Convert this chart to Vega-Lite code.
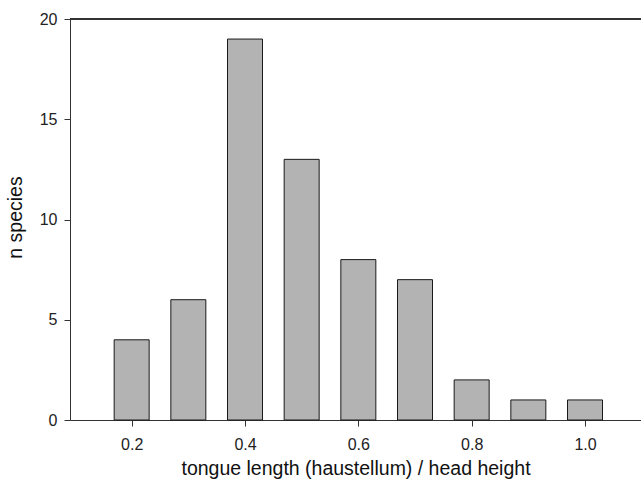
{
  "$schema": "https://vega.github.io/schema/vega-lite/v6.json",
  "width": 571,
  "height": 401,
  "autosize": "none",
  "padding": {"left": 70, "top": 19, "right": 0, "bottom": 59},
  "background": "white",
  "config": {
    "view": {"stroke": null},
    "font": "Liberation Sans",
    "axis": {
      "domainColor": "#333333",
      "tickColor": "#333333",
      "labelColor": "#222222",
      "titleColor": "#111111",
      "labelFont": "Liberation Sans",
      "titleFont": "Liberation Sans",
      "labelFontSize": 16,
      "titleFontSize": 19.5,
      "titleFontWeight": "normal",
      "tickSize": 6,
      "grid": false
    }
  },
  "data": {
    "values": [
      {"ratio": 0.2, "n": 4},
      {"ratio": 0.3, "n": 6},
      {"ratio": 0.4, "n": 19},
      {"ratio": 0.5, "n": 13},
      {"ratio": 0.6, "n": 8},
      {"ratio": 0.7, "n": 7},
      {"ratio": 0.8, "n": 2},
      {"ratio": 0.9, "n": 1},
      {"ratio": 1.0, "n": 1}
    ]
  },
  "layer": [
    {
      "mark": {"type": "bar", "width": 35, "fill": "#b3b3b3", "stroke": "#1a1a1a", "strokeWidth": 1},
      "encoding": {
        "x": {
          "field": "ratio",
          "type": "quantitative",
          "scale": {"domain": [0.1, 1.09], "nice": false, "zero": false},
          "axis": {
            "values": [0.2, 0.4, 0.6, 0.8, 1.0],
            "format": ".1f",
            "title": "tongue length (haustellum) / head height",
            "labelPadding": 10,
            "titleY": 54.5,
            "titleBaseline": "alphabetic"
          }
        },
        "y": {
          "field": "n",
          "type": "quantitative",
          "scale": {"domain": [0, 20], "nice": false},
          "axis": {
            "values": [0, 5, 10, 15, 20],
            "title": "n species",
            "labelPadding": 7,
            "titleX": -48.5,
            "titleY": 198,
            "titleAngle": 270,
            "titleBaseline": "alphabetic",
            "titleAlign": "center"
          }
        }
      }
    },
    {
      "mark": {"type": "rule", "color": "#333333", "strokeWidth": 1},
      "encoding": {"y": {"datum": 20}}
    }
  ]
}
